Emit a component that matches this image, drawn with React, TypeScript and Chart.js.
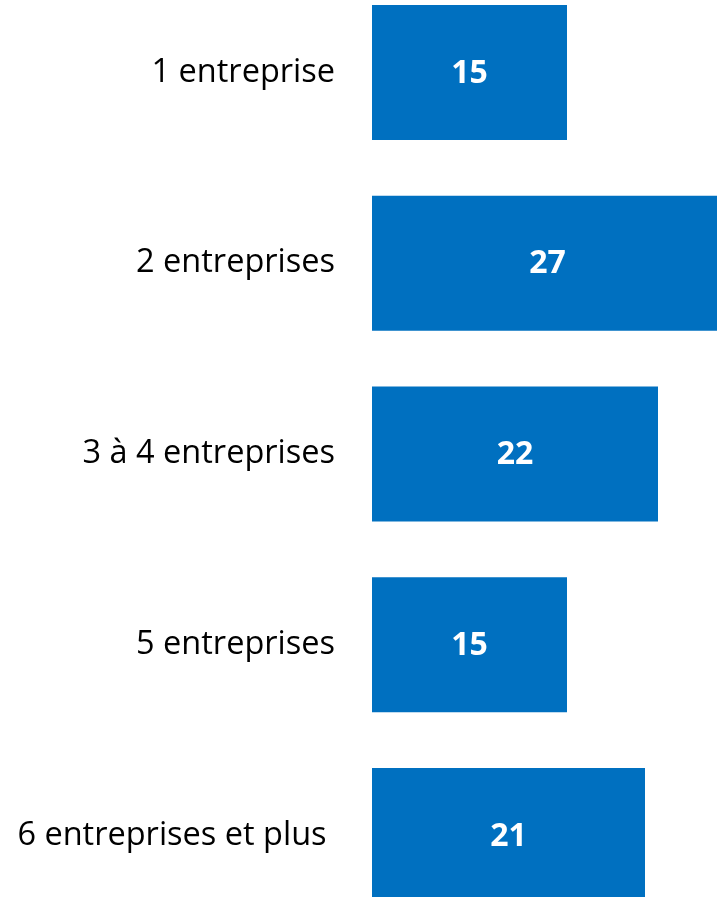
import React, { useEffect, useRef } from "react";
import { Chart, registerables } from "chart.js";

Chart.register(...registerables);

const categories: string[] = [
  "1 entreprise",
  "2 entreprises",
  "3 à 4 entreprises",
  "5 entreprises",
  "6 entreprises et plus ",
];
const values: number[] = [15, 27, 22, 15, 21];
const xMax = 28;

const BAR_COLOR = "#0070C0";
const FONT = "'Open Sans', 'Liberation Sans', sans-serif";

const CANVAS_W = 736;
const CANVAS_H = 954;

const valueLabels = {
  id: "valueLabels",
  afterDatasetsDraw(chart: any) {
    const ctx = chart.ctx;
    const meta = chart.getDatasetMeta(0);
    ctx.save();
    ctx.fillStyle = "#ffffff";
    ctx.font = `bold 32px ${FONT}`;
    ctx.textAlign = "center";
    ctx.textBaseline = "middle";
    meta.data.forEach((bar: any, i: number) => {
      const p = bar.getProps(["x", "y", "base"], true);
      ctx.fillText(String(values[i]), (p.x + p.base) / 2, p.y + 1);
    });
    ctx.restore();
  },
};

export default function App() {
  const ref = useRef<HTMLCanvasElement | null>(null);
  useEffect(() => {
    if (!ref.current) return;
    const chart = new Chart(ref.current, {
      type: "bar",
      data: {
        labels: categories,
        datasets: [
          {
            data: values,
            backgroundColor: BAR_COLOR,
            borderWidth: 0,
            categoryPercentage: 1,
            barPercentage: 0.7075,
          },
        ],
      },
      options: {
        indexAxis: "y",
        animation: false,
        responsive: false,
        maintainAspectRatio: false,
        devicePixelRatio: 1,
        layout: { padding: 0 },
        plugins: {
          legend: { display: false },
          tooltip: { enabled: false },
          title: { display: false },
        },
        scales: {
          x: {
            display: false,
            min: 0,
            max: xMax,
          },
          y: {
            grid: { display: false, drawTicks: false },
            border: { display: false },
            ticks: {
              autoSkip: false,
              padding: 37,
              color: "#000000",
              font: { family: FONT, size: 32.5 },
            },
            afterFit(scale: any) {
              scale.width = 372;
              scale.paddingTop = 0;
              scale.paddingBottom = 0;
            },
          },
        },
      },
      plugins: [valueLabels],
    });
    return () => chart.destroy();
  }, []);

  return (
    <div
      style={{
        position: "fixed",
        left: 0,
        top: 0,
        width: 717,
        height: 897,
        overflow: "hidden",
        background: "#ffffff",
      }}
    >
      <canvas
        ref={ref}
        width={CANVAS_W}
        height={CANVAS_H}
        style={{
          position: "absolute",
          left: 0,
          top: -23,
          width: CANVAS_W,
          height: CANVAS_H,
        }}
      />
    </div>
  );
}
